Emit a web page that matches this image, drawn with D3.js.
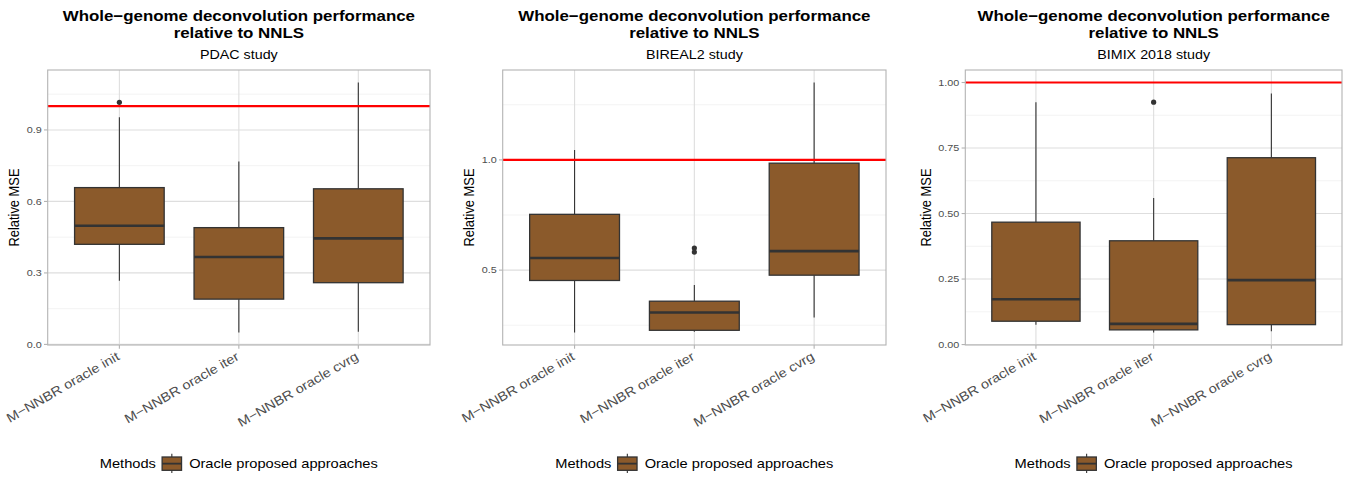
<!DOCTYPE html>
<html>
<head>
<meta charset="utf-8">
<script src="https://cdn.jsdelivr.net/npm/d3@7"></script>
<style>
  body { margin: 0; background: #ffffff; }
  svg { display: block; }
  text { font-family: "Liberation Sans", Arial, Helvetica, sans-serif; }
</style>
</head>
<body>
<svg id="chart" width="1351" height="477"></svg>
<script>
// ---- data -------------------------------------------------------------
const methods = ["M\u2212NNBR oracle init", "M\u2212NNBR oracle iter", "M\u2212NNBR oracle cvrg"];
const studies = ["PDAC study", "BIREAL2 study", "BIMIX 2018 study"];
const titleLines = ["Whole\u2212genome deconvolution performance", "relative to NNLS"];
const legendTitle = "Methods";
const legendLabel = "Oracle proposed approaches";
const referenceLine = 1.0;

// five-number summaries per method: [lower whisker, Q1, median, Q3, upper whisker]
const pdacBoxes = [
  [0.267, 0.420, 0.498, 0.658, 0.953],
  [0.050, 0.190, 0.367, 0.490, 0.767],
  [0.053, 0.259, 0.445, 0.653, 1.099]
];
const pdacOutliers = [[1.016], [], []];
const pdacTicks = [0.0, 0.3, 0.6, 0.9];
const pdacTickLabels = ["0.0", "0.3", "0.6", "0.9"];

const birealBoxes = [
  [0.217, 0.453, 0.555, 0.753, 1.045],
  [0.220, 0.227, 0.308, 0.359, 0.432],
  [0.285, 0.477, 0.586, 0.985, 1.351]
];
const birealOutliers = [[], [0.600, 0.582], []];
const birealTicks = [0.5, 1.0];
const birealTickLabels = ["0.5", "1.0"];

const bimixBoxes = [
  [0.076, 0.089, 0.173, 0.467, 0.925],
  [0.046, 0.056, 0.079, 0.396, 0.559],
  [0.051, 0.076, 0.246, 0.713, 0.958]
];
const bimixOutliers = [[], [0.925], []];
const bimixTicks = [0.00, 0.25, 0.50, 0.75, 1.00];
const bimixTickLabels = ["0.00", "0.25", "0.50", "0.75", "1.00"];

// ---- layout -------------------------------------------------------------
const S = 1.126;              // horizontal stretch applied to all text
const FILL = "#8B5A2B";
const INK = "#333333";
const plotTop = 70, plotBottom = 345;

const panels = [
  { study: studies[0], boxes: pdacBoxes,   outliers: pdacOutliers,   ticks: pdacTicks,   labels: pdacTickLabels,   left: 47.7,  right: 430 },
  { study: studies[1], boxes: birealBoxes, outliers: birealOutliers, ticks: birealTicks, labels: birealTickLabels, left: 502.7, right: 886 },
  { study: studies[2], boxes: bimixBoxes,  outliers: bimixOutliers,  ticks: bimixTicks,  labels: bimixTickLabels,  left: 965.3, right: 1342 }
];

const svg = d3.select("#chart");

function place(sel, x, y, rot) {
  return sel.attr("transform", `translate(${x},${y}) scale(${S},1)` + (rot ? ` rotate(${rot})` : ""));
}
// rotation first, then stretch along the text's own baseline
function placeAlong(sel, x, y, rot) {
  return sel.attr("transform", `translate(${x},${y}) rotate(${rot}) scale(${S},1)`);
}

panels.forEach(p => {
  const g = svg.append("g");

  // y domain: data range (incl. reference line) expanded by 5% each side
  const vals = [referenceLine];
  p.boxes.forEach(b => vals.push(b[0], b[4]));
  p.outliers.forEach(o => vals.push(...o));
  const lo = d3.min(vals), hi = d3.max(vals), pad = (hi - lo) * 0.05;
  const y = d3.scaleLinear().domain([lo - pad, hi + pad]).range([plotBottom, plotTop]);

  const x = d3.scalePoint().domain(methods).range([p.left, p.right]).padding(0.6);
  const boxW = x.step() * 0.75;

  // minor grid lines halfway between major ticks
  const step = p.ticks[1] - p.ticks[0];
  const minor = [];
  for (let v = p.ticks[0] - step / 2; v <= hi + pad; v += step) {
    if (v >= lo - pad) minor.push(v);
  }
  g.selectAll(".minor").data(minor).join("line")
    .attr("x1", p.left).attr("x2", p.right)
    .attr("y1", d => y(d)).attr("y2", d => y(d))
    .attr("stroke", "#EBEBEB").attr("stroke-width", 0.6);
  g.selectAll(".majorY").data(p.ticks).join("line")
    .attr("x1", p.left).attr("x2", p.right)
    .attr("y1", d => y(d)).attr("y2", d => y(d))
    .attr("stroke", "#DEDEDE").attr("stroke-width", 1.1);
  g.selectAll(".majorX").data(methods).join("line")
    .attr("x1", d => x(d)).attr("x2", d => x(d))
    .attr("y1", plotTop).attr("y2", plotBottom)
    .attr("stroke", "#DEDEDE").attr("stroke-width", 1.1);

  // boxplots
  const bx = g.selectAll(".box").data(p.boxes.map((b, i) => ({ m: methods[i], b, o: p.outliers[i] })))
    .join("g");
  bx.append("line")
    .attr("x1", d => x(d.m)).attr("x2", d => x(d.m))
    .attr("y1", d => y(d.b[4])).attr("y2", d => y(d.b[3]))
    .attr("stroke", INK).attr("stroke-width", 1.1);
  bx.append("line")
    .attr("x1", d => x(d.m)).attr("x2", d => x(d.m))
    .attr("y1", d => y(d.b[1])).attr("y2", d => y(d.b[0]))
    .attr("stroke", INK).attr("stroke-width", 1.1);
  bx.append("rect")
    .attr("x", d => x(d.m) - boxW / 2).attr("width", boxW)
    .attr("y", d => y(d.b[3])).attr("height", d => y(d.b[1]) - y(d.b[3]))
    .attr("fill", FILL).attr("stroke", INK).attr("stroke-width", 1.3);
  bx.append("line")
    .attr("x1", d => x(d.m) - boxW / 2).attr("x2", d => x(d.m) + boxW / 2)
    .attr("y1", d => y(d.b[2])).attr("y2", d => y(d.b[2]))
    .attr("stroke", INK).attr("stroke-width", 2.6);
  bx.each(function (d) {
    d3.select(this).selectAll("circle").data(d.o).join("circle")
      .attr("cx", x(d.m)).attr("cy", v => y(v)).attr("r", 2.6)
      .attr("fill", INK);
  });

  // reference line
  g.append("line")
    .attr("x1", p.left).attr("x2", p.right)
    .attr("y1", y(referenceLine)).attr("y2", y(referenceLine))
    .attr("stroke", "#FF0000").attr("stroke-width", 2.1);

  // panel border
  g.append("rect")
    .attr("x", p.left).attr("y", plotTop)
    .attr("width", p.right - p.left).attr("height", plotBottom - plotTop)
    .attr("fill", "none").attr("stroke", "#B3B3B3").attr("stroke-width", 1.1);

  // y axis ticks and labels
  const tickLen = 3.7;
  g.selectAll(".ytick").data(p.ticks).join("line")
    .attr("x1", p.left - tickLen).attr("x2", p.left)
    .attr("y1", d => y(d)).attr("y2", d => y(d))
    .attr("stroke", "#B3B3B3").attr("stroke-width", 1.1);
  let maxLab = 0;
  p.ticks.forEach((t, i) => {
    const tx = g.append("text").text(p.labels[i])
      .attr("text-anchor", "end").attr("dy", "0.35em")
      .attr("font-size", 9.6).attr("fill", "#4D4D4D");
    place(tx, p.left - tickLen - 2.3, y(t));
    maxLab = Math.max(maxLab, tx.node().getComputedTextLength() * S);
  });

  // x axis ticks and rotated labels
  g.selectAll(".xtick").data(methods).join("line")
    .attr("x1", d => x(d)).attr("x2", d => x(d))
    .attr("y1", plotBottom).attr("y2", plotBottom + tickLen)
    .attr("stroke", "#B3B3B3").attr("stroke-width", 1.1);
  methods.forEach(m => {
    const tx = g.append("text").text(m)
      .attr("text-anchor", "end").attr("font-size", 12.9).attr("fill", "#4D4D4D");
    placeAlong(tx, x(m) + 1, plotBottom + 14, -30);
  });

  // y axis title
  const yt = g.append("text").text("Relative MSE")
    .attr("text-anchor", "middle").attr("font-size", 12.9).attr("fill", "#000");
  place(yt, p.left - tickLen - 2.3 - maxLab - 7.3, (plotTop + plotBottom) / 2, -90);

  // titles
  const cx = (p.left + p.right) / 2;
  titleLines.forEach((t, i) => {
    const tt = g.append("text").text(t)
      .attr("text-anchor", "middle").attr("font-size", 15).attr("font-weight", "bold").attr("fill", "#000");
    place(tt, cx, 21 + i * 16.5);
  });
  const st = g.append("text").text(p.study)
    .attr("text-anchor", "middle").attr("font-size", 12.7).attr("fill", "#000");
  place(st, cx, 58.5);

  // legend, centred under the plot
  const lg = g.append("g");
  const ly = 467.5;
  const t1 = lg.append("text").text(legendTitle).attr("font-size", 13).attr("fill", "#000");
  const t2 = lg.append("text").text(legendLabel).attr("font-size", 13).attr("fill", "#000");
  const w1 = t1.node().getComputedTextLength() * S;
  const w2 = t2.node().getComputedTextLength() * S;
  const keyW = 19.4, gap1 = 6.2, gap2 = 7.6;
  const total = w1 + gap1 + keyW + gap2 + w2;
  const x0 = cx - total / 2;
  place(t1, x0, ly);
  const kx = x0 + w1 + gap1;
  place(t2, kx + keyW + gap2, ly);
  const kc = kx + keyW / 2;
  lg.append("line").attr("x1", kc).attr("x2", kc).attr("y1", 453.7).attr("y2", 473)
    .attr("stroke", INK).attr("stroke-width", 1.1);
  lg.append("rect").attr("x", kx).attr("y", 457).attr("width", keyW).attr("height", 13.3)
    .attr("fill", FILL).attr("stroke", INK).attr("stroke-width", 1.3);
  lg.append("line").attr("x1", kx).attr("x2", kx + keyW).attr("y1", 463.65).attr("y2", 463.65)
    .attr("stroke", INK).attr("stroke-width", 1.8);
});
</script>
</body>
</html>
